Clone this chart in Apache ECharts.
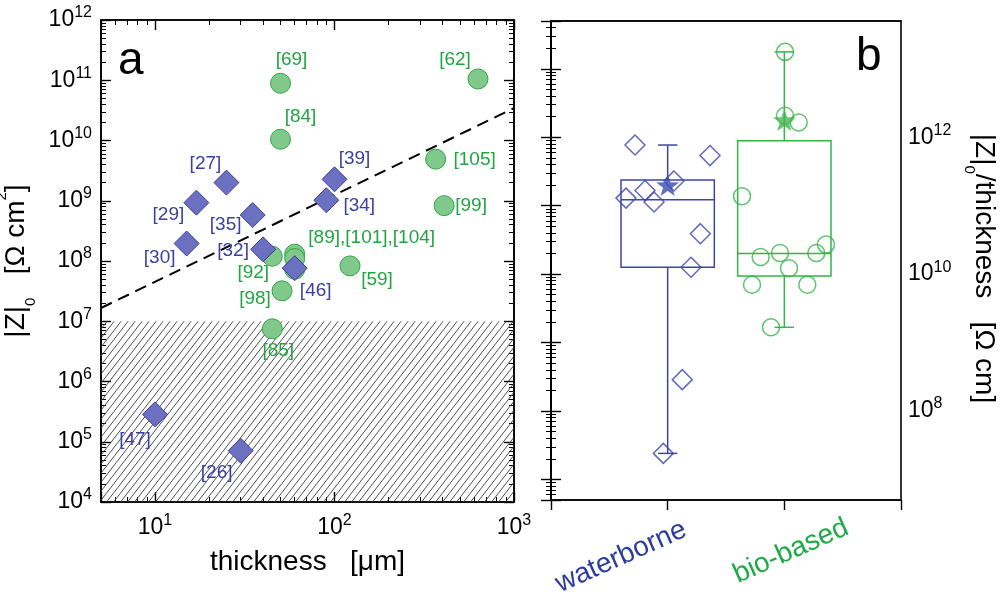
<!DOCTYPE html>
<html><head><meta charset="utf-8">
<script src="https://cdn.jsdelivr.net/npm/echarts@6/dist/echarts.min.js"></script>
<style>html,body{margin:0;padding:0;background:#fff}#c{width:1000px;height:598px}</style>
</head><body><div id="c"></div>
<script>
// ---------- Panel a data ----------
const blueRefs = ['[27]','[29]','[35]','[30]','[32]','[46]','[39]','[34]','[47]','[26]'];
const blueThickness = [25, 17, 35, 15, 40, 60, 100, 90, 10, 30];
const blueZ = [2.0e9, 9.3e8, 5.8e8, 1.95e8, 1.56e8, 7.6e7, 2.27e9, 1.02e9, 2.85e5, 7.1e4];
const greenRefs = ['[69]','[62]','[84]','[105]','[99]','[89],[101],[104]','','','[92]','[59]','[98]','[85]'];
const greenThickness = [50, 630, 50, 366, 408, 60, 60, 60, 45, 122, 51, 45];
const greenZ = [8.9e10, 1.05e11, 1.05e10, 4.9e9, 8.3e8, 1.3e8, 1.1e8, 7.3e7, 1.2e8, 8.3e7, 3.2e7, 7.5e6];
const trendThickness = [5, 1000];
const trendZ = [1.66e7, 3.44e10];
const hatchThickness = [5, 1000];
const hatchZ = [1e4, 1e7];
const xTicksA = [5, 1000];
const yTicksA = [1e4, 1e12];

// ---------- Panel b data ----------
const groups = ['waterborne', 'bio-based'];
const waterbornePos = [0.72, 1.363, 1.054, 0.806, 0.643, 0.883, 1.28, 1.2, 1.125, 0.963];
const waterborneZt = [7.7e11, 5.4e11, 2.3e11, 1.67e11, 1.29e11, 1.13e11, 3.9e10, 1.26e10, 2.87e8, 2.4e7];
const biobasedPos = [2.006, 2.006, 2.123, 1.637, 2.357, 2.274, 1.963, 1.797, 2.04, 1.723, 2.197, 1.886];
const biobasedZt = [1.77e13, 2.06e12, 1.64e12, 1.37e11, 2.7e10, 2.04e10, 2.04e10, 1.78e10, 1.22e10, 7.0e9, 7.0e9, 1.67e9];
const boxPos = [1, 2];
const boxMin = [2.4e7, 1.67e9];
const boxQ1 = [1.26e10, 9.4e9];
const boxMedian = [1.22e11, 2.0e10];
const boxQ3 = [2.38e11, 8.9e11];
const boxMax = [7.7e11, 1.77e13];
const meanZt = [2.0e11, 1.79e12];
const yTicksB = [5e6, 5e13];

// ---------- styling / layout (not data) ----------
const FONT = '"Liberation Sans", Arial, Helvetica, sans-serif';
const BLUE_FILL = '#6c70c0', BLUE_EDGE = '#3b3f9a', BLUE_TXT = '#3c41a0';
const GREEN_FILL = '#80c98a', GREEN_EDGE = '#2ea546', GREEN_TXT = '#22a540';
const BLUE_B = '#3c44aa', GREEN_B = '#36b449';
const labelOffset = {
  '[27]': [-21, -19], '[29]': [-28, 12], '[35]': [-27, 10], '[30]': [-27, 14], '[32]': [-30, 1],
  '[46]': [21, 23], '[39]': [20, -21], '[34]': [33, 6], '[47]': [-20, 25], '[26]': [-24, 22],
  '[69]': [11, -24], '[62]': [-23, -19], '[84]': [20, -22], '[105]': [39, 1], '[99]': [27, 0],
  '[89],[101],[104]': [77, -16], '[92]': [-19, 17], '[59]': [27, 14], '[98]': [-27, 8], '[85]': [6, 22]
};
const STAR = 'path://M0,-50 L11.8,-16.2 L47.6,-15.5 L19,6.2 L29.4,40.5 L0,20 L-29.4,40.5 L-19,6.2 L-47.6,-15.5 L-11.8,-16.2 Z';

function hatchPattern() {
  const c = document.createElement('canvas');
  c.width = 7; c.height = 9;
  const g = c.getContext('2d');
  g.strokeStyle = '#3a3a3a'; g.lineWidth = 0.9;
  for (const k of [-7, 0, 7]) { g.beginPath(); g.moveTo(k, 9); g.lineTo(k + 7, 0); g.stroke(); }
  return { image: c, repeat: 'repeat' };
}

function isDecade(v) { const l = Math.log10(v); return Math.abs(l - Math.round(l)) < 1e-6; }
function powLabel(v) { return isDecade(v) ? '10{s|' + Math.round(Math.log10(v)) + '}' : ''; }
function powLabelEven(v) {
  if (!isDecade(v)) return '';
  const e = Math.round(Math.log10(v));
  return e % 2 === 0 ? '10{s|' + e + '}' : '';
}
const supRich = { s: { fontSize: 16, lineHeight: 18, verticalAlign: 'top', fontFamily: FONT, color: '#000' } };
const tickLabel = (fmt, margin) => ({ formatter: fmt, fontSize: 23, lineHeight: 30, color: '#000', fontFamily: FONT, margin: margin, rich: supRich });
const axLine = { show: true, lineStyle: { color: '#000', width: 1.6 } };
const inTick = { show: true, inside: true, length: 10, lineStyle: { color: '#000', width: 1.4 } };
const minTick = { show: true, splitNumber: 9, length: 5, lineStyle: { color: '#000', width: 1 } };
const nameRich = {
  sub: { fontSize: 15, lineHeight: 15, verticalAlign: 'bottom', fontFamily: FONT, color: '#000' },
  sup: { fontSize: 15, lineHeight: 24, verticalAlign: 'top', fontFamily: FONT, color: '#000' }
};
const nameStyle = { fontSize: 28, lineHeight: 44, color: '#000', fontFamily: FONT, rich: nameRich };
const nameStyleRight = { fontSize: 28, lineHeight: 44, color: '#000', fontFamily: FONT, rich: nameRich, padding: [0, 0, 0, 16] };

function scatterItems(xs, ys, refs) {
  return xs.map((x, i) => {
    const item = { value: [x, ys[i]] };
    const r = refs[i];
    if (r) item.label = { show: true, formatter: r, offset: labelOffset[r] };
    return item;
  });
}

function boxRenderer(color) {
  return function (params, api) {
    const x = api.value(0);
    const pMin = api.coord([x, api.value(1)]);
    const pQ1 = api.coord([x, api.value(2)]);
    const pMed = api.coord([x, api.value(3)]);
    const pQ3 = api.coord([x, api.value(4)]);
    const pMax = api.coord([x, api.value(5)]);
    const left = api.coord([x - 0.4, api.value(3)])[0];
    const right = api.coord([x + 0.4, api.value(3)])[0];
    const cx = pMed[0];
    const capL = api.coord([x - 0.083, api.value(3)])[0];
    const capR = api.coord([x + 0.083, api.value(3)])[0];
    const st = { stroke: color, lineWidth: 1.5, fill: null };
    return {
      type: 'group',
      children: [
        { type: 'rect', shape: { x: left, y: pQ3[1], width: right - left, height: pQ1[1] - pQ3[1] }, style: { stroke: color, lineWidth: 1.5, fill: 'none' } },
        { type: 'line', shape: { x1: left, y1: pMed[1], x2: right, y2: pMed[1] }, style: st },
        { type: 'line', shape: { x1: cx, y1: pQ3[1], x2: cx, y2: pMax[1] }, style: st },
        { type: 'line', shape: { x1: cx, y1: pQ1[1], x2: cx, y2: pMin[1] }, style: st },
        { type: 'line', shape: { x1: capL, y1: pMax[1], x2: capR, y2: pMax[1] }, style: st },
        { type: 'line', shape: { x1: capL, y1: pMin[1], x2: capR, y2: pMin[1] }, style: st }
      ]
    };
  };
}

const chart = echarts.init(document.getElementById('c'), null, { renderer: 'canvas' });
const option = {
  animation: false,
  textStyle: { fontFamily: FONT },
  grid: [
    { left: 101, top: 20, width: 413, height: 482, show: true, borderColor: '#000', borderWidth: 1.6, backgroundColor: 'transparent', containLabel: false, outerBoundsMode: 'none' },
    { left: 551, top: 21, width: 350, height: 479, show: true, borderColor: '#000', borderWidth: 1.6, backgroundColor: 'transparent', containLabel: false, outerBoundsMode: 'none' }
  ],
  xAxis: [
    { type: 'log', logBase: 10, gridIndex: 0, position: 'bottom', min: xTicksA[0], max: xTicksA[1],
      axisLine: axLine, axisTick: inTick, minorTick: minTick, splitLine: { show: false },
      axisLabel: tickLabel(powLabel, 11),
      name: 'thickness   [μm]', nameLocation: 'middle', nameGap: 46,
      nameTextStyle: { fontSize: 28, color: '#000', fontFamily: FONT } },
    { type: 'log', logBase: 10, gridIndex: 0, position: 'top', min: xTicksA[0], max: xTicksA[1],
      axisLine: axLine, axisTick: inTick, minorTick: minTick, splitLine: { show: false }, axisLabel: { show: false } },
    { type: 'value', gridIndex: 1, position: 'bottom', min: 0, max: 3, interval: 1,
      axisLine: axLine, axisTick: { show: true, inside: false, length: 10, lineStyle: { color: '#000', width: 1.4 } },
      splitLine: { show: false },
      axisLabel: {
        rotate: 24, align: 'center', verticalAlign: 'middle', margin: 40, fontSize: 28, fontFamily: FONT,
        formatter: v => v === boxPos[0] ? '{w|' + groups[0] + '}' : (v === boxPos[1] ? '{b|' + groups[1] + '}' : ''),
        rich: {
          w: { fontSize: 28, fontFamily: FONT, color: '#2d3ca0', padding: [0, 99, 7, 0] },
          b: { fontSize: 28, fontFamily: FONT, color: '#1eaa46', padding: [26, 0, 0, 3] }
        }
      } },
    { type: 'value', gridIndex: 1, position: 'top', min: 0, max: 3,
      axisLine: axLine, axisTick: { show: false }, axisLabel: { show: false }, splitLine: { show: false } }
  ],
  yAxis: [
    { type: 'log', logBase: 10, gridIndex: 0, position: 'left', min: yTicksA[0], max: yTicksA[1],
      axisLine: axLine, axisTick: inTick, minorTick: minTick, splitLine: { show: false },
      axisLabel: tickLabel(powLabel, 9),
      name: '|Z|{sub|0}   [Ω cm{sup|2}]', nameLocation: 'middle', nameRotate: 90, nameGap: 63, nameTextStyle: nameStyle },
    { type: 'log', logBase: 10, gridIndex: 0, position: 'right', min: yTicksA[0], max: yTicksA[1],
      axisLine: axLine, axisTick: inTick, minorTick: minTick, splitLine: { show: false }, axisLabel: { show: false } },
    { type: 'log', logBase: 10, gridIndex: 1, position: 'left', min: yTicksB[0], max: yTicksB[1],
      axisLine: axLine, axisTick: inTick, minorTick: minTick, splitLine: { show: false }, axisLabel: { show: false } },
    { type: 'log', logBase: 10, gridIndex: 1, position: 'right', min: yTicksB[0], max: yTicksB[1],
      axisLine: axLine, axisTick: inTick, minorTick: minTick, splitLine: { show: false },
      axisLabel: tickLabel(powLabelEven, 7),
      name: '|Z|{sub|0}/thickness   [Ω cm]', nameLocation: 'middle', nameRotate: -90, nameGap: 61, nameTextStyle: nameStyleRight }
  ],
  series: [
    { type: 'line', xAxisIndex: 0, yAxisIndex: 0, z: 2,
      data: trendThickness.map((x, i) => [x, trendZ[i]]),
      symbol: 'none', lineStyle: { color: '#000', width: 2, type: [12, 7] }, silent: true,
      markArea: { silent: true, z: 1, itemStyle: { color: hatchPattern(), borderWidth: 0 },
        data: [[{ coord: [hatchThickness[0], hatchZ[0]] }, { coord: [hatchThickness[1], hatchZ[1]] }]] } },
    { type: 'scatter', xAxisIndex: 0, yAxisIndex: 0, z: 3, symbol: 'circle', symbolSize: 20,
      itemStyle: { color: GREEN_FILL, borderColor: GREEN_EDGE, borderWidth: 1, opacity: 1 },
      label: { show: false, position: 'inside', color: GREEN_TXT, fontSize: 19, fontFamily: FONT },
      data: scatterItems(greenThickness, greenZ, greenRefs) },
    { type: 'scatter', xAxisIndex: 0, yAxisIndex: 0, z: 4, symbol: 'diamond', symbolSize: 25,
      itemStyle: { color: BLUE_FILL, borderColor: BLUE_EDGE, borderWidth: 1, opacity: 1 },
      label: { show: false, position: 'inside', color: BLUE_TXT, fontSize: 19, fontFamily: FONT },
      data: scatterItems(blueThickness, blueZ, blueRefs) },
    { type: 'custom', xAxisIndex: 2, yAxisIndex: 2, z: 2, renderItem: boxRenderer(BLUE_B),
      data: [[boxPos[0], boxMin[0], boxQ1[0], boxMedian[0], boxQ3[0], boxMax[0]]] },
    { type: 'custom', xAxisIndex: 2, yAxisIndex: 2, z: 2, renderItem: boxRenderer(GREEN_B),
      data: [[boxPos[1], boxMin[1], boxQ1[1], boxMedian[1], boxQ3[1], boxMax[1]]] },
    { type: 'scatter', xAxisIndex: 2, yAxisIndex: 2, z: 3, symbol: 'diamond', symbolSize: 20,
      itemStyle: { color: 'transparent', borderColor: BLUE_B, borderWidth: 1.5 },
      data: waterbornePos.map((x, i) => [x, waterborneZt[i]]) },
    { type: 'scatter', xAxisIndex: 2, yAxisIndex: 2, z: 3, symbol: 'circle', symbolSize: 17,
      itemStyle: { color: 'transparent', borderColor: GREEN_B, borderWidth: 1.5 },
      data: biobasedPos.map((x, i) => [x, biobasedZt[i]]) },
    { type: 'scatter', xAxisIndex: 2, yAxisIndex: 2, z: 5, symbol: STAR, symbolSize: [23, 22],
      itemStyle: { color: params => params.dataIndex === 0 ? '#3a4bb0' : '#45b54f' },
      data: boxPos.map((x, i) => [x, meanZt[i]]) }
  ],
  graphic: [
    { type: 'text', left: 118, top: 38, style: { text: 'a', font: '46px ' + FONT, fill: '#000' }, z: 10 },
    { type: 'text', left: 856, top: 34, style: { text: 'b', font: '46px ' + FONT, fill: '#000' }, z: 10 }
  ]
};
chart.setOption(option);
</script>
</body></html>
